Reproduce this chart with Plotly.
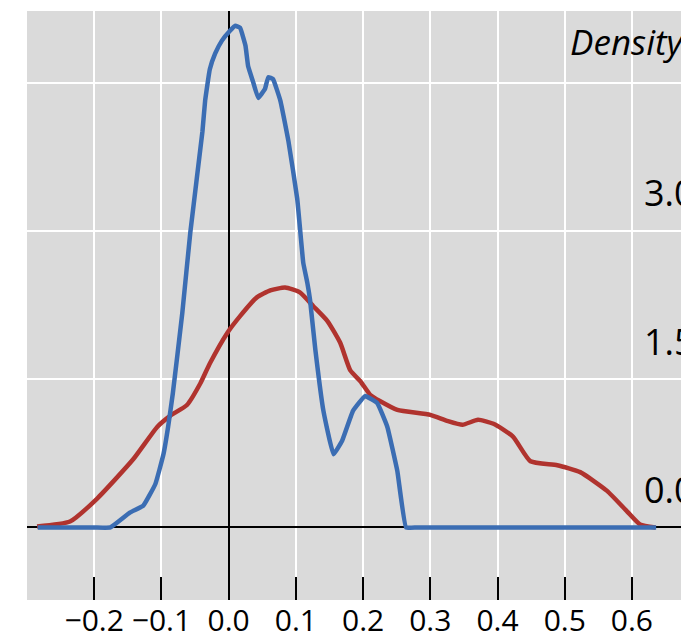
import plotly.graph_objects as go

# Blue density curve
blue_x = [-0.284, -0.240, -0.200, -0.176, -0.147, -0.127, -0.109, -0.097, -0.090, -0.083,
          -0.069, -0.057, -0.039, -0.035, -0.028, -0.020, -0.010, 0.002, 0.010, 0.017,
          0.025, 0.029, 0.036, 0.044, 0.054, 0.059, 0.066, 0.077, 0.089, 0.102,
          0.111, 0.117, 0.121, 0.129, 0.141, 0.156, 0.169, 0.185, 0.203, 0.221,
          0.236, 0.251, 0.264, 0.280, 0.350, 0.450, 0.550, 0.636]
blue_y = [0.0, 0.0, 0.0, 0.0, 0.15, 0.22, 0.44, 0.74, 1.02, 1.36,
          2.17, 2.99, 4.01, 4.32, 4.64, 4.80, 4.93, 5.03, 5.08, 5.06,
          4.88, 4.67, 4.52, 4.35, 4.44, 4.56, 4.54, 4.32, 3.91, 3.33,
          2.68, 2.48, 2.31, 1.80, 1.18, 0.74, 0.88, 1.18, 1.33, 1.26,
          1.02, 0.57, 0.0, 0.0, 0.0, 0.0, 0.0, 0.0]

# Red density curve
red_x = [-0.285, -0.236, -0.196, -0.142, -0.106, -0.087, -0.062, -0.042, -0.028, -0.002,
         0.017, 0.042, 0.062, 0.084, 0.106, 0.126, 0.147, 0.166, 0.181, 0.196,
         0.211, 0.225, 0.251, 0.300, 0.325, 0.348, 0.371, 0.394, 0.423, 0.449,
         0.489, 0.523, 0.563, 0.593, 0.612, 0.635]
red_y = [0.01, 0.06, 0.29, 0.69, 1.02, 1.13, 1.24, 1.46, 1.66, 1.97,
         2.14, 2.33, 2.40, 2.43, 2.38, 2.24, 2.09, 1.87, 1.59, 1.48,
         1.34, 1.28, 1.19, 1.14, 1.08, 1.04, 1.09, 1.05, 0.92, 0.67,
         0.63, 0.56, 0.37, 0.16, 0.03, 0.0]

x_ticks = [-0.3, -0.2, -0.1, 0.0, 0.1, 0.2, 0.3, 0.4, 0.5, 0.6]
x_tick_text = ["", "\u22120.2", "\u22120.1", "0.0", "0.1", "0.2", "0.3", "0.4", "0.5", "0.6"]
y_ticks = [0.0, 1.5, 3.0, 4.5]
y_labels = ["0.0", "1.5", "3.0"]
y_title = "Density"

# layout constants for the in-plot axis labels (clipped at the plot edge like the original)
LABEL_X = 0.618        # left edge of the right-hand value labels (x units)
LABEL_LIFT = 0.342     # labels sit above their gridlines (y units)
TITLE_X = 0.508
TITLE_LIFT = 0.375

fig = go.Figure()
fig.add_trace(go.Scatter(x=red_x, y=red_y, mode="lines",
                         line=dict(color="#B0332E", width=4.5, shape="spline", smoothing=0.5),
                         showlegend=False, hoverinfo="skip"))
fig.add_trace(go.Scatter(x=blue_x, y=blue_y, mode="lines",
                         line=dict(color="#3B6DB3", width=4.5, shape="spline", smoothing=0.3),
                         showlegend=False, hoverinfo="skip"))

fig.add_trace(go.Scatter(
    x=[LABEL_X] * len(y_labels), y=[v + LABEL_LIFT for v in y_ticks[:3]],
    text=y_labels, mode="text", textposition="middle right", cliponaxis=True,
    textfont=dict(family="Open Sans", size=36, color="black"),
    showlegend=False, hoverinfo="skip"))
fig.add_trace(go.Scatter(
    x=[TITLE_X], y=[y_ticks[3] + TITLE_LIFT], text=["<i>" + y_title + "</i>"],
    mode="text", textposition="middle right", cliponaxis=True,
    textfont=dict(family="Open Sans", size=35, color="black"),
    showlegend=False, hoverinfo="skip"))

fig.update_layout(
    width=681, height=640,
    margin=dict(l=27, r=0, t=11, b=37),
    paper_bgcolor="white", plot_bgcolor="#DADADA",
    xaxis=dict(range=[-0.3, 0.673], tickvals=x_ticks, ticktext=x_tick_text,
               showgrid=True, gridcolor="white", gridwidth=2,
               zeroline=True, zerolinecolor="black", zerolinewidth=2,
               ticks="inside", ticklen=23, tickwidth=2, tickcolor="black",
               showline=False, ticklabelstandoff=0,
               tickfont=dict(family="Open Sans", size=30, color="black")),
    yaxis=dict(range=[-0.735, 5.23], tickvals=y_ticks, showticklabels=False,
               showgrid=True, gridcolor="white", gridwidth=2,
               zeroline=True, zerolinecolor="black", zerolinewidth=2,
               showline=False, ticks=""),
)

page_fix = (
    "document.body.style.margin='0';document.body.style.padding='0';"
    "document.body.style.overflow='hidden';"
)

fig.write_html("out.html", config={"displayModeBar": False}, post_script=page_fix)
